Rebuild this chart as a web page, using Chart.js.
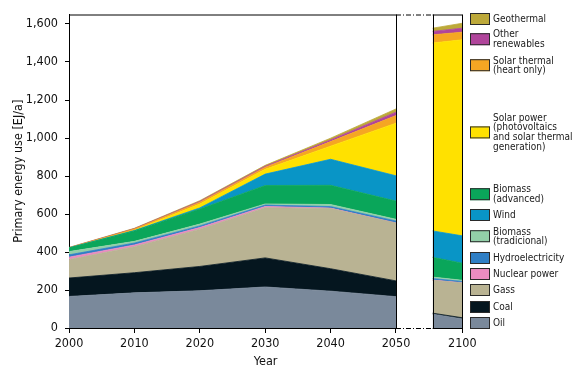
<!DOCTYPE html>
<html>
<head>
<meta charset="utf-8">
<script src="https://cdn.jsdelivr.net/npm/chart.js@4"></script>
<style>
html, body { margin: 0; padding: 0; background: #fff; overflow: hidden; }
#wrap { position: relative; width: 578px; height: 373px; }
#legend { position: absolute; left: 470px; top: 0; width: 108px; height: 373px;
  font-family: "Liberation Sans Narrow", "DejaVu Sans Condensed", sans-serif;
  font-size: 10px; line-height: 9.8px; color: #1a1a1a; }
.item { position: absolute; left: 0; display: flex; align-items: center; transform: translateY(-50%); white-space: nowrap; }
.sw { width: 18px; height: 10px; border: 1px solid #2a2a2a; flex: none; margin-right: 3px; }
</style>
</head>
<body>
<div id="wrap">
  <canvas id="chart" width="578" height="373"></canvas>
  <div id="legend"></div>
</div>
<script>
// years shown; the last two belong to the narrow panel on the right
const years = [2000, 2010, 2020, 2030, 2040, 2050, 2090, 2100];

// EJ/a per source, bottom of the stack first
const oil          = [166, 185, 196, 216, 194, 165, 73, 48];
const coal         = [97, 106, 128, 153, 118, 83, 5, 6];
const gas          = [97, 137, 196, 264, 317, 304, 173, 183];
const nuclear      = [13, 9, 9, 7, 2, 1, 1, 1];
const hydro        = [12, 10, 8, 7, 8, 10, 8, 7];
const biomassTrad  = [17, 9, 10, 6, 11, 9, 8, 6];
const biomassAdv   = [19, 55, 79, 97, 101, 96, 104, 90];
const wind         = [1, 2, 6, 60, 137, 133, 139, 144];
const solarPower   = [0, 2, 20, 25, 69, 277, 989, 1032];
const solarThermal = [0, 6, 10, 11, 24, 40, 43, 40];
const otherRenew   = [1, 2, 4, 5, 9, 18, 18, 21];
const geothermal   = [1, 2, 4, 5, 9, 17, 17, 26];

const names = ["Oil", "Coal", "Gass", "Nuclear power", "Hydroelectricity", "Biomass\n(tradicional)",
  "Biomass\n(advanced)", "Wind", "Solar power\n(photovoltaics\nand solar thermal\ngeneration)",
  "Solar thermal\n(heart only)", "Other\nrenewables", "Geothermal"];
const series = [oil, coal, gas, nuclear, hydro, biomassTrad, biomassAdv, wind, solarPower, solarThermal, otherRenew, geothermal];
const colors = ["#7a899b", "#05161f", "#b9b393", "#ea8cc0", "#2f7fc5", "#92cfa8",
  "#0aa65a", "#0995c6", "#ffe100", "#f5a623", "#b0449b", "#bda93a"];
const yTicks = [0, 200, 400, 600, 800, 1000, 1200, 1400, 1600];
const xTickYears = [2000, 2010, 2020, 2030, 2040, 2050, 2100];

// legend swatch centre (px from top)
const legendY = [322.8, 306.5, 290.2, 274.2, 257.5, 236.7, 194.2, 215.2, 132.5, 65.5, 39.2, 18.7];

// the x axis is broken after 2050: the late panel is squeezed in after a gap
const BREAK = 2050, GAP = 5.6, SQUEEZE = 0.454;
function xPos(y) { return y <= BREAK ? y : BREAK + GAP + (y - 2090) * SQUEEZE; }
const nMain = years.filter(y => y <= BREAK).length;
const labels = years.map(xPos);
labels.splice(nMain, 0, BREAK + GAP / 2);
function withGap(arr) { const a = arr.slice(); a.splice(nMain, 0, null); return a; }

const panelLeft = xPos(2090), panelRight = xPos(2100);

const breakFrame = {
  id: 'breakFrame',
  afterDraw(chart) {
    const { ctx, chartArea: ca, scales: { x } } = chart;
    const xb = x.getPixelForValue(BREAK), xl = x.getPixelForValue(panelLeft), xr = x.getPixelForValue(panelRight);
    ctx.save();
    ctx.strokeStyle = '#000';
    ctx.lineWidth = 1;
    const line = (x1, y1, x2, y2, dash) => {
      ctx.setLineDash(dash || []);
      ctx.beginPath(); ctx.moveTo(x1, y1); ctx.lineTo(x2, y2); ctx.stroke();
    };
    [ca.top + 0.5, ca.bottom + 0.5].forEach(y => {
      line(ca.left, y, xb, y);
      line(xb, y, xl, y, [5, 2, 1, 2]);
      line(xl, y, xr, y);
    });
    [xb, xl, xr].forEach(px => line(Math.round(px) + 0.5, ca.top, Math.round(px) + 0.5, ca.bottom));
    ctx.restore();
  }
};

const font = "'DejaVu Sans Condensed', sans-serif";

new Chart(document.getElementById('chart'), {
  type: 'line',
  data: {
    labels: labels,
    datasets: series.map((s, i) => ({
      label: names[i].replace(/\n/g, ' '),
      data: withGap(s),
      backgroundColor: colors[i],
      borderColor: colors[i],
      borderWidth: 0.8,
      pointRadius: 0,
      tension: 0,
      spanGaps: false,
      fill: i === 0 ? 'origin' : '-1'
    }))
  },
  options: {
    responsive: false,
    animation: false,
    layout: { padding: { left: 7, top: 11, right: 115.7, bottom: 0 } },
    plugins: { legend: { display: false }, tooltip: { enabled: false } },
    scales: {
      x: {
        type: 'linear',
        min: 2000,
        max: panelRight,
        afterBuildTicks: s => { s.ticks = xTickYears.map(y => ({ value: xPos(y) })); },
        afterFit: s => { s.height = 373 - 328; },
        ticks: {
          color: '#111', font: { family: font, size: 12.5 }, padding: 3, maxRotation: 0,
          callback: v => String(xTickYears.find(y => Math.abs(xPos(y) - v) < 0.01))
        },
        grid: { drawOnChartArea: false, drawTicks: true, tickLength: 5, color: '#000' },
        border: { display: false },
        title: { display: true, text: 'Year', color: '#111', font: { family: font, size: 12.5 }, padding: { top: 0, bottom: 4 } }
      },
      y: {
        stacked: true,
        min: 0,
        max: 1650,
        afterBuildTicks: s => { s.ticks = yTicks.map(v => ({ value: v })); },
        afterFit: s => { s.width = 69 - 7; },
        ticks: {
          color: '#111', font: { family: font, size: 12.5 }, padding: 7,
          callback: v => v.toLocaleString('en-US')
        },
        grid: { drawOnChartArea: false, drawTicks: true, tickLength: 4, color: '#000' },
        border: { display: true, color: '#000' },
        title: { display: true, text: 'Primary energy use [EJ/a]', color: '#111', font: { family: font, size: 12.5 }, padding: { top: 4, bottom: 0 } }
      }
    }
  },
  plugins: [breakFrame]
});

// legend, drawn as html on the right
const legend = document.getElementById('legend');
names.forEach((n, i) => {
  const item = document.createElement('div');
  item.className = 'item';
  item.style.top = legendY[i] + 'px';
  const sw = document.createElement('span');
  sw.className = 'sw';
  sw.style.background = colors[i];
  const txt = document.createElement('span');
  txt.innerHTML = n.split('\n').join('<br>');
  item.appendChild(sw);
  item.appendChild(txt);
  legend.appendChild(item);
});
</script>
</body>
</html>
